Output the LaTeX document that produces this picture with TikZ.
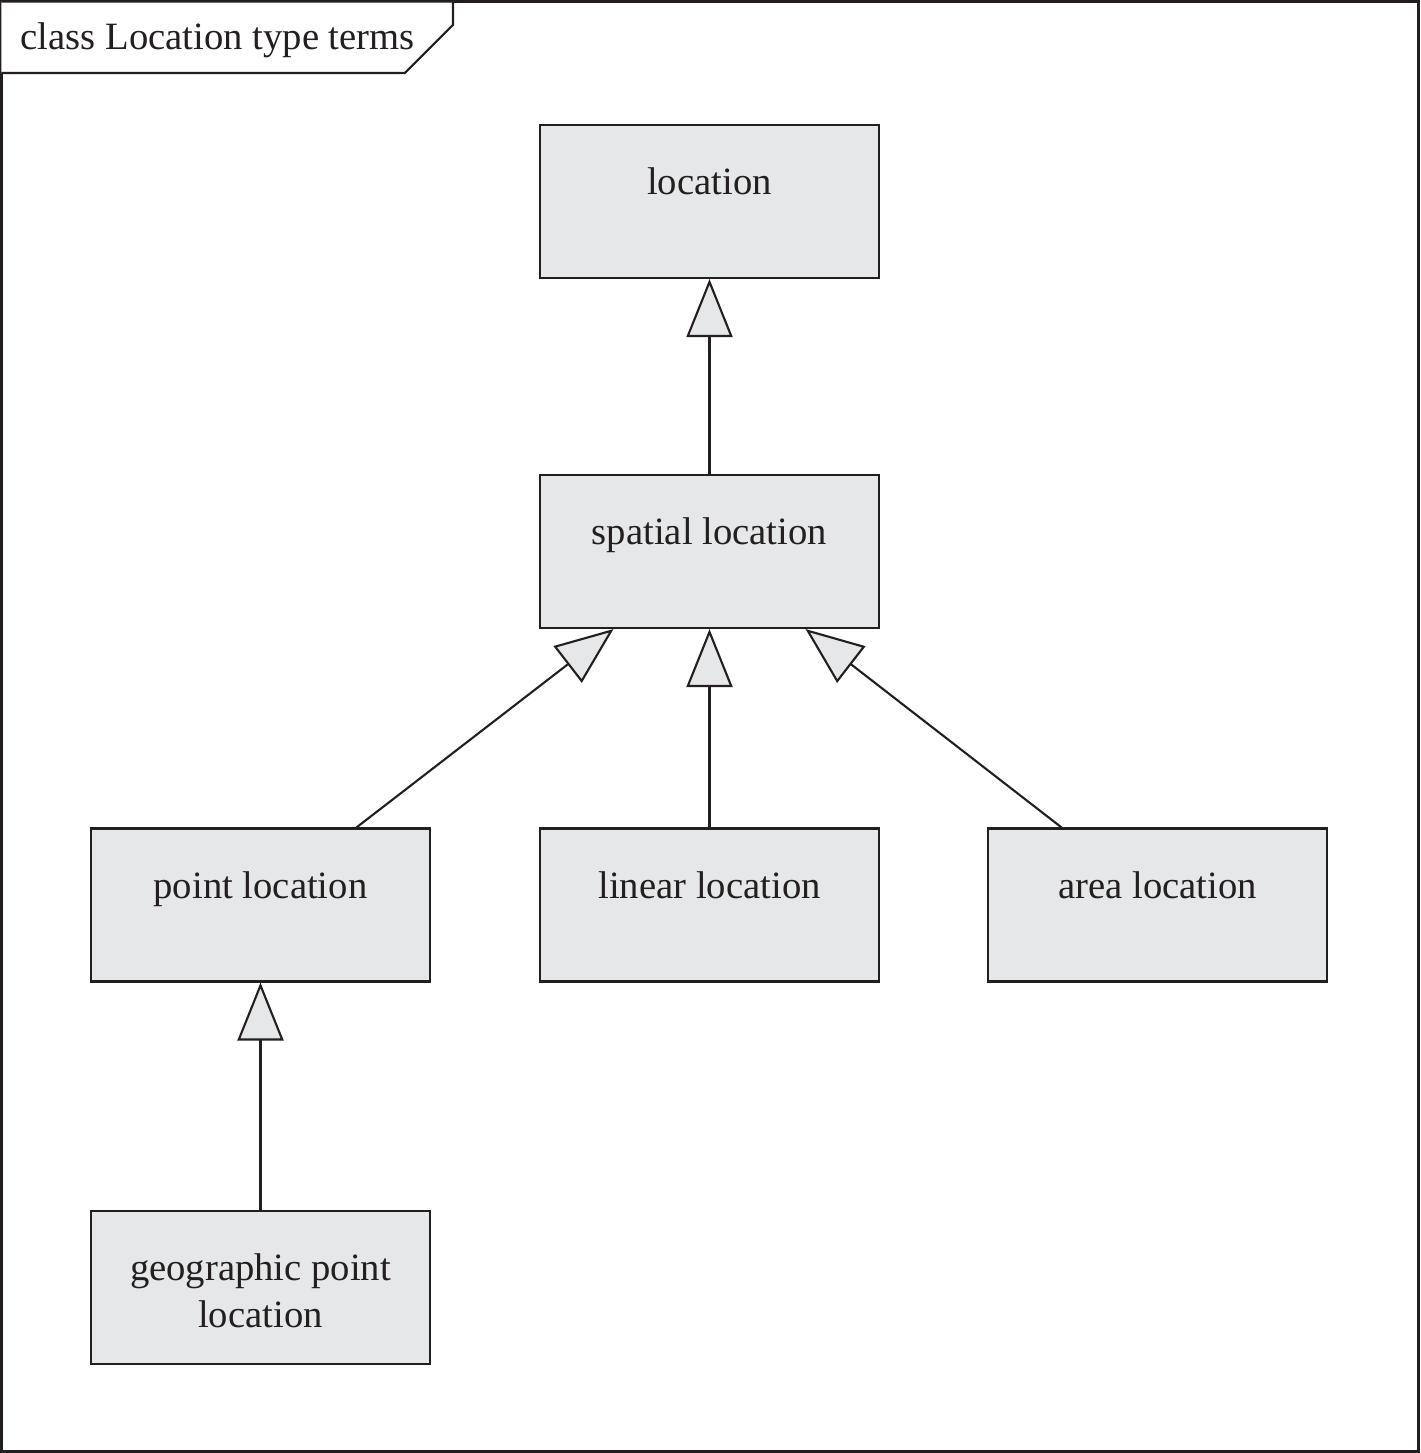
\documentclass[tikz,border=0pt]{standalone}
\usepackage{fontspec}
\setmainfont{Liberation Serif}
\usetikzlibrary{calc,arrows.meta}
\definecolor{boxgray}{RGB}{230,231,232}
\definecolor{ink}{RGB}{35,31,32}
\tikzset{
	cls/.style={draw=ink, fill=boxgray, line width=0.6pt, minimum width=3.39cm, minimum height=1.53cm,
		inner xsep=0pt, inner ysep=0.15cm, text height=0.55cm, text depth=0.68cm, text=ink, font=\fontsize{11}{13.5}\selectfont},
	gen/.style={draw=ink, line width=0.6pt, -{Triangle[length=0.58cm, width=0.46cm, fill=boxgray]}}
}

\begin{document}
\begin{tikzpicture}
			%%%%% START %%%%%
			\def\framew{14.2}
			\def\frameh{14.53}
			\def\tabx{4.53}
			\def\tabc{4.05}
			\def\tabh{0.73}
			\def\off{0.96}

			\useasboundingbox (0,0) rectangle (\framew,\frameh);
			\draw[ink, line width=0.9pt] (0.015,0.015) rectangle (\framew-0.015,\frameh-0.015);
			\draw[ink, line width=0.6pt, fill=white] (0.015,\frameh-0.015) -- (\tabx,\frameh-0.015) -- (\tabx,\frameh-0.25) -- (\tabc,\frameh-\tabh) -- (0.015,\frameh-\tabh);
			\node[anchor=base west, inner sep=0pt, text=ink, font=\fontsize{11}{13.5}\selectfont] (title) at (0.2,\frameh-0.50) {class Location type terms};

			\node[cls] (loc) at (7.095,12.515) {location};
			\node[cls] (spat) at (7.095,9.015) {spatial location};
			\node[cls] (point) at (2.605,5.48) {point location};
			\node[cls] (lin) at (7.095,5.48) {linear location};
			\node[cls] (area) at (11.575,5.48) {area location};
			\node[cls, align=center, text height=1.02cm, text depth=0.21cm] (geo) at (2.605,1.655) {geographic point\\location};

			\draw[gen] (spat.north) -- (loc.south);
			\draw[gen] (lin.north) -- (spat.south);
			\draw[gen] ($(point.north)+(\off,0)$) -- ($(spat.south)+(-\off,0)$);
			\draw[gen] ($(area.north)+(-\off,0)$) -- ($(spat.south)+(\off,0)$);
			\draw[gen] (geo.north) -- (point.south);
			%%%%% END %%%%%
\end{tikzpicture}
\end{document}
